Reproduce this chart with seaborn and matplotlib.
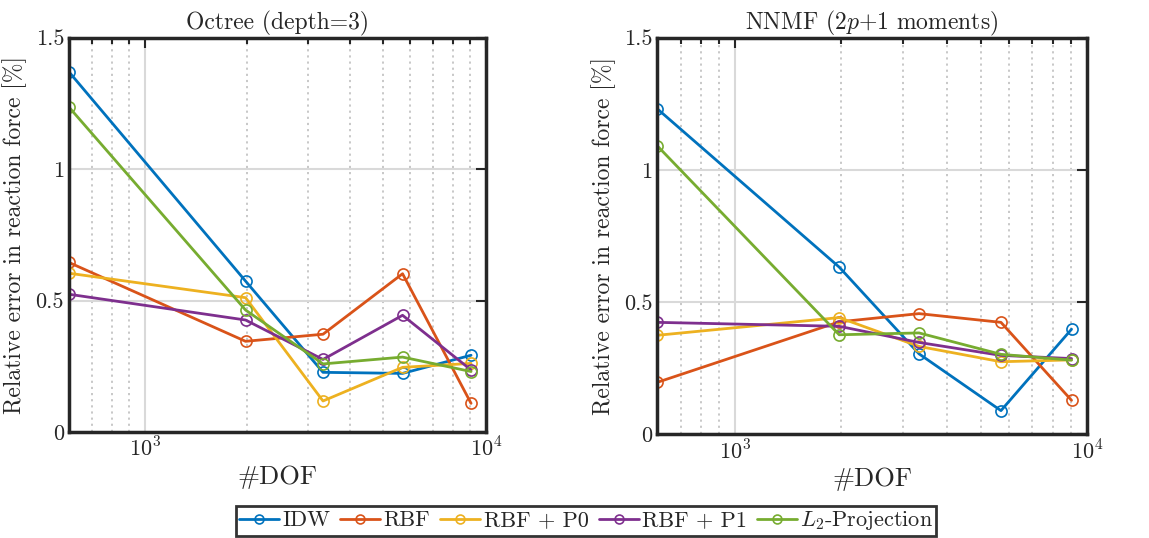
import numpy as np
import pandas as pd
import matplotlib
matplotlib.use("Agg")
import matplotlib.pyplot as plt
import seaborn as sns
from matplotlib.ticker import LogLocator, NullFormatter, FixedLocator

sns.set_style("white")
plt.rcParams['font.family'] = ['cmr10', 'DejaVu Serif']
plt.rcParams['mathtext.fontset'] = 'cm'
plt.rcParams['axes.unicode_minus'] = False
plt.rcParams['axes.formatter.use_mathtext'] = True

# number of degrees of freedom
dof = [600, 1975, 3330, 5695, 9040]

methods = ["IDW", "RBF", "RBF + P0", "RBF + P1", "$L_2$-Projection"]
colors = ["#0072BD", "#D95319", "#EDB120", "#7E2F8E", "#77AC30"]

# Octree (depth=3)
octree_idw = [1.370, 0.574, 0.227, 0.223, 0.292]
octree_rbf = [0.645, 0.345, 0.372, 0.602, 0.109]
octree_rbf_p0 = [0.604, 0.511, 0.118, 0.246, 0.261]
octree_rbf_p1 = [0.524, 0.426, 0.276, 0.444, 0.236]
octree_l2 = [1.236, 0.464, 0.259, 0.285, 0.230]

# NNMF (2p+1 moments)
nnmf_idw = [1.231, 0.632, 0.304, 0.089, 0.397]
nnmf_rbf = [0.196, 0.425, 0.456, 0.423, 0.128]
nnmf_rbf_p0 = [0.374, 0.441, 0.332, 0.274, 0.281]
nnmf_rbf_p1 = [0.423, 0.408, 0.347, 0.298, 0.286]
nnmf_l2 = [1.091, 0.376, 0.383, 0.302, 0.280]

panels = [
    ("Octree (depth=3)", [octree_idw, octree_rbf, octree_rbf_p0, octree_rbf_p1, octree_l2]),
    ("NNMF ($2p$+1 moments)", [nnmf_idw, nnmf_rbf, nnmf_rbf_p0, nnmf_rbf_p1, nnmf_l2]),
]

fig = plt.figure(figsize=(11.49, 5.38), dpi=100)
ax1 = fig.add_axes([0.060, 0.197, 0.363, 0.733])
ax2 = fig.add_axes([0.572, 0.193, 0.374, 0.737])

for ax, (title, series) in zip([ax1, ax2], panels):
    for name, vals, c in zip(methods, series, colors):
        df = pd.DataFrame({"DOF": dof, "err": vals})
        sns.lineplot(data=df, x="DOF", y="err", ax=ax, color=c, lw=2,
                     marker="o", markersize=8, markerfacecolor="none",
                     markeredgecolor=c, markeredgewidth=1.2, label=name,
                     legend=False)
    ax.set_xscale("log")
    ax.set_xlim(dof[0], 1e4)
    ax.set_ylim(0, 1.5)
    ax.set_yticks([0, 0.5, 1, 1.5])
    ax.set_yticklabels(["0", "0.5", "1", "1.5"])
    ax.xaxis.set_major_locator(FixedLocator([1e3, 1e4]))
    ax.xaxis.set_minor_locator(LogLocator(base=10, subs=np.arange(2, 10)))
    ax.xaxis.set_minor_formatter(NullFormatter())
    ax.set_xticklabels(["$10^3$", "$10^4$"])
    ax.grid(True, which="major", color="#d9d9d9", lw=1.5)
    ax.grid(True, which="minor", axis="x", color="#c4c4c4", lw=1.3, ls=(0, (1.2, 2.2)))
    ax.tick_params(which="both", direction="in", top=True, right=True,
                   labelsize=16, width=1.5)
    ax.tick_params(which="major", length=7)
    ax.tick_params(which="minor", length=4)
    for s in ax.spines.values():
        s.set_linewidth(2.5)
        s.set_color("#262626")
    ax.set_title(title, fontsize=17, pad=6)
    ax.set_xlabel("#DOF", fontsize=19, labelpad=3)
    ax.set_ylabel("Relative error in reaction force [%]", fontsize=17, labelpad=6)

handles, labels = ax1.get_legend_handles_labels()
leg = fig.legend(handles, labels, loc="lower center", ncol=5, bbox_to_anchor=(0.51, 0.0),
                 fontsize=16, frameon=True, fancybox=False, edgecolor="black",
                 handlelength=1.8, handletextpad=0.15, columnspacing=0.45,
                 borderpad=0.15, borderaxespad=0.1, markerscale=0.8)
leg.get_frame().set_linewidth(2)

fig.savefig("out.png", dpi=100)
